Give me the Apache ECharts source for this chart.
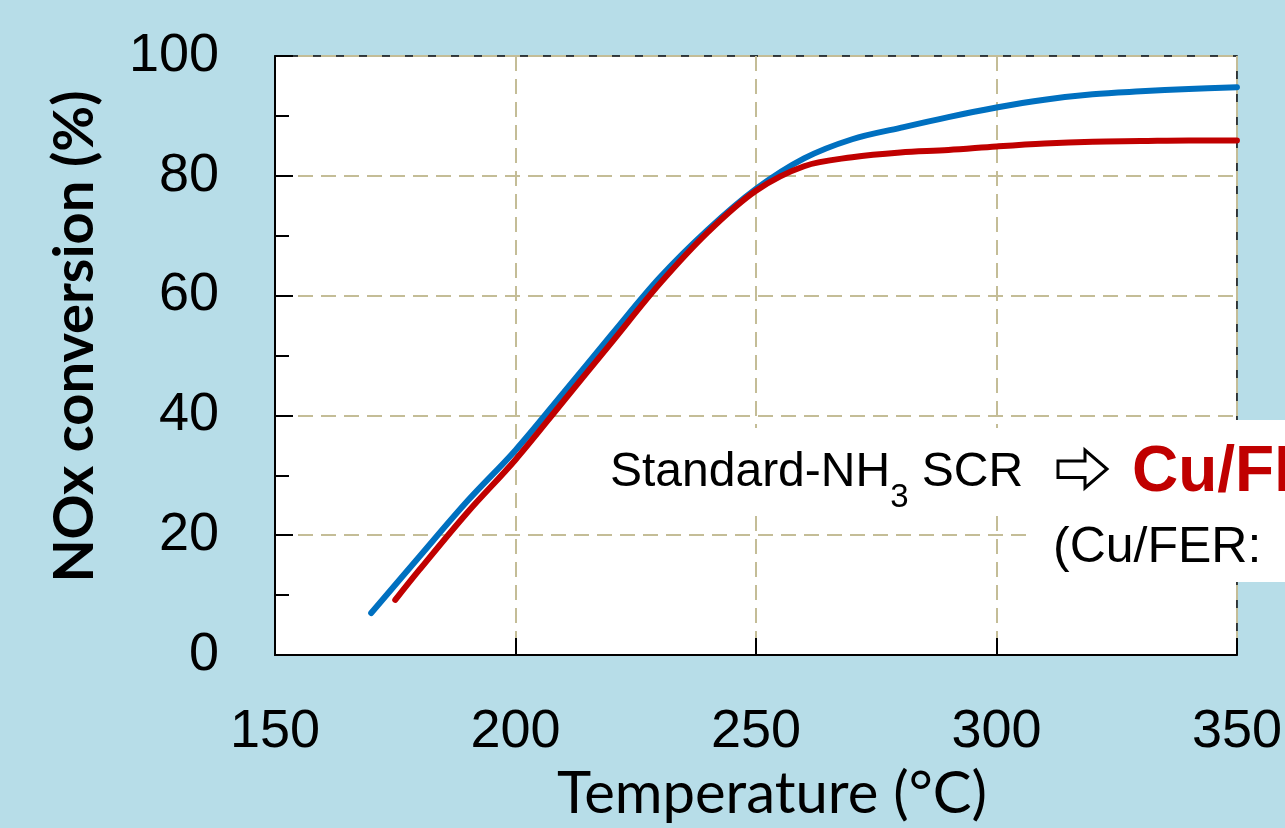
<!DOCTYPE html>
<html><head><meta charset="utf-8">
<script src="https://cdn.jsdelivr.net/npm/echarts@6/dist/echarts.min.js"></script>
<style>html,body{margin:0;padding:0;background:#B7DDE8}#c{width:1285px;height:828px}</style>
</head><body><div id="c"></div>
<script>
// Data
const blueTemps  = [170, 180, 190, 200, 210, 220, 230, 240, 250, 260, 270, 280, 290, 300, 310, 320, 330, 340, 350];
const blueValues = [7.0, 16.4, 25.7, 34.2, 43.8, 53.5, 63.0, 71.0, 77.8, 82.9, 86.1, 88.0, 89.8, 91.4, 92.7, 93.6, 94.1, 94.5, 94.8];
const redTemps   = [175, 180, 190, 200, 210, 220, 230, 240, 250, 260, 270, 280, 290, 300, 310, 320, 330, 340, 350];
const redValues  = [9.2, 14.2, 23.8, 32.6, 42.4, 52.2, 62.0, 70.6, 77.5, 81.6, 83.1, 83.9, 84.3, 84.9, 85.4, 85.7, 85.8, 85.9, 85.9];
const xTicks = [150, 200, 250, 300, 350];
const yTicks = [0, 20, 40, 60, 80, 100];
const xTitle = 'Temperature (°C)';
const yTitle = 'NOx conversion (%)';

const blueData = blueTemps.map((t, i) => [t, blueValues[i]]);
const redData = redTemps.map((t, i) => [t, redValues[i]]);

const chart = echarts.init(document.getElementById('c'), null, {renderer: 'canvas'});
const gridColor = '#C4BD97';
chart.setOption({
  backgroundColor: '#B7DDE8',
  animation: false,
  grid: {
    left: 275, top: 56, right: 48, bottom: 171,
    show: true, backgroundColor: '#ffffff', borderColor: '#000', borderWidth: 1.5
  },
  xAxis: {
    type: 'value', min: xTicks[0], max: xTicks[xTicks.length - 1], interval: 50,
    name: xTitle, nameLocation: 'middle', nameGap: 110,
    nameTextStyle: {fontFamily: 'Lato', fontSize: 58, color: '#000', padding: [0, 0, 0, 32]},
    axisLine: {show: true, lineStyle: {color: '#000', width: 2}},
    axisTick: {show: true, inside: true, length: 17, lineStyle: {color: '#000', width: 2}},
    axisLabel: {fontFamily: 'Liberation Sans', fontSize: 54, color: '#000', margin: 50},
    splitLine: {show: true, lineStyle: {color: gridColor, width: 2, type: [15, 8]}}
  },
  yAxis: {
    type: 'value', min: yTicks[0], max: yTicks[yTicks.length - 1], interval: 20,
    name: yTitle, nameLocation: 'middle', nameGap: 172, nameRotate: 90,
    nameTextStyle: {fontFamily: 'Lato', fontWeight: 'bold', fontSize: 56, color: '#000', padding: [0, 0, 0, 38]},
    axisLine: {show: true, lineStyle: {color: '#000', width: 2}},
    axisTick: {show: true, inside: true, length: 18, lineStyle: {color: '#000', width: 2}},
    minorTick: {show: true, splitNumber: 2, length: 14, lineStyle: {color: '#000', width: 2}},
    axisLabel: {fontFamily: 'Liberation Sans', fontSize: 54, color: '#000', margin: 56},
    splitLine: {show: true, lineStyle: {color: gridColor, width: 2, type: [15, 8]}}
  },
  series: [
    {type: 'line', data: blueData, smooth: 0.35, showSymbol: false,
     lineStyle: {color: '#0070C0', width: 6, cap: 'round'}, z: 3},
    {type: 'line', data: redData, smooth: 0.35, showSymbol: false,
     lineStyle: {color: '#C00000', width: 6, cap: 'round'}, z: 4}
  ],
  graphic: [
    {type: 'rect', z: 100, shape: {x: 598, y: 428, width: 700, height: 84}, style: {fill: '#fff'}},
    {type: 'rect', z: 100, shape: {x: 1032, y: 420, width: 260, height: 162}, style: {fill: '#fff'}},
    {type: 'text', z: 101, x: 610, y: 449,
     style: {
       text: '{a|Standard-NH}{s|3}{a| SCR}',
       rich: {
         a: {fontFamily: 'Liberation Sans', fontSize: 48, fill: '#000', lineHeight: 48, verticalAlign: 'middle'},
         s: {fontFamily: 'Liberation Sans', fontSize: 33, fill: '#000', lineHeight: 33, verticalAlign: 'top', padding: [32, 0, 0, 0]}
       }
     }},
    {type: 'polygon', z: 101,
     shape: {points: [[1058, 461], [1085, 461], [1085, 450], [1107, 469], [1085, 488], [1085, 477.5], [1058, 477.5]]},
     style: {fill: '#fff', stroke: '#000', lineWidth: 3}},
    {type: 'text', z: 101, x: 1132, y: 441,
     style: {text: 'Cu/FER', fontFamily: 'Liberation Sans', fontWeight: 'bold', fontSize: 64, fill: '#C00000'}},
    {type: 'text', z: 101, x: 1053, y: 523,
     style: {text: '(Cu/FER:', fontFamily: 'Liberation Sans', fontSize: 50, fill: '#000'}}
  ]
});
</script></body></html>
